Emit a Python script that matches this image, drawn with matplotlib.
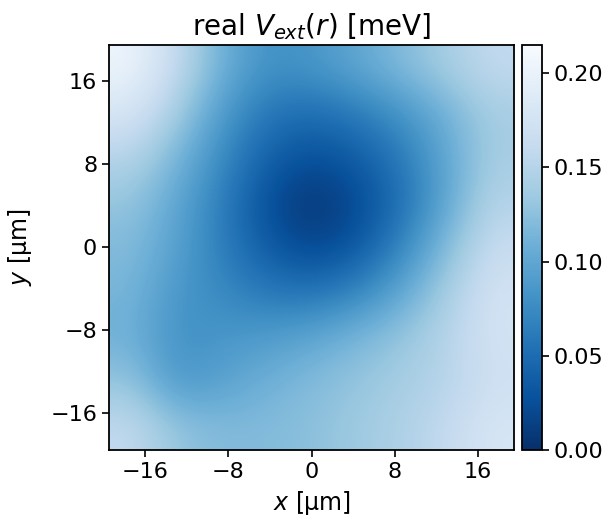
import numpy as np
import matplotlib
matplotlib.use("Agg")
import matplotlib.pyplot as plt

# === DATA (meV) ===
x_extent = [-19.5, 19.5]
y_extent = [-19.5, 19.5]
x_ticks = [-16, -8, 0, 8, 16]
y_ticks = [-16, -8, 0, 8, 16]
cbar_ticks = [0.00, 0.05, 0.10, 0.15, 0.20]
v_max = 0.215

# coarse grid, top row = largest y
row_y17 = [0.205, 0.160, 0.110, 0.080, 0.085, 0.100, 0.120, 0.140, 0.160]
row_y13 = [0.180, 0.140, 0.090, 0.058, 0.050, 0.062, 0.082, 0.110, 0.140]
row_y9 = [0.150, 0.115, 0.075, 0.040, 0.025, 0.035, 0.060, 0.100, 0.140]
row_y4 = [0.130, 0.100, 0.065, 0.025, 0.003, 0.020, 0.050, 0.100, 0.150]
row_y0 = [0.120, 0.095, 0.065, 0.035, 0.018, 0.030, 0.070, 0.120, 0.165]
row_ym4 = [0.115, 0.085, 0.075, 0.060, 0.055, 0.070, 0.100, 0.140, 0.175]
row_ym9 = [0.110, 0.080, 0.085, 0.090, 0.100, 0.115, 0.130, 0.150, 0.175]
row_ym13 = [0.130, 0.085, 0.095, 0.110, 0.120, 0.130, 0.140, 0.150, 0.170]
row_ym17 = [0.160, 0.130, 0.120, 0.120, 0.125, 0.135, 0.145, 0.160, 0.180]

V = np.array([row_y17, row_y13, row_y9, row_y4, row_y0,
              row_ym4, row_ym9, row_ym13, row_ym17])

plt.rcParams['font.size'] = 16

fig = plt.figure(figsize=(6.09, 5.23), dpi=100)
ax = fig.add_axes([0.179, 0.140, 0.665, 0.774])
cax = fig.add_axes([0.857, 0.140, 0.033, 0.774])

im = ax.imshow(V, cmap='Blues_r', vmin=0, vmax=v_max, origin='upper',
               extent=[x_extent[0], x_extent[1], y_extent[0], y_extent[1]],
               interpolation='bicubic', aspect='auto')
ax.set_xticks(x_ticks)
ax.set_yticks(y_ticks)
ax.tick_params(labelsize=16, length=5, width=1.2)
ax.set_xlabel(r'$x$ [µm]', fontsize=17, labelpad=5)
ax.set_ylabel(r'$y$ [µm]', fontsize=17, labelpad=12)
ax.set_title(r'real $V_{ext}(r)$ [meV]', fontsize=20, pad=7)
for s in ax.spines.values():
    s.set_linewidth(1.3)

cb = fig.colorbar(im, cax=cax, ticks=cbar_ticks)
cb.ax.set_yticklabels([f"{t:.2f}" for t in cbar_ticks])
cb.ax.tick_params(labelsize=16, length=5, width=1.2)
cb.outline.set_linewidth(1.3)

fig.savefig('out.png', dpi=100)
